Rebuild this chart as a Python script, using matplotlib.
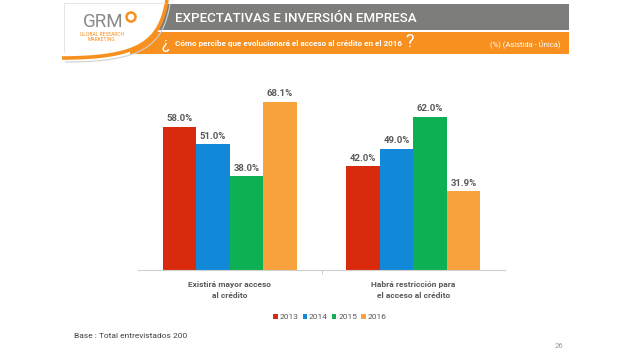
import matplotlib.pyplot as plt
import matplotlib.patches as mpatches
from matplotlib.path import Path
import numpy as np

plt.rcParams['font.family'] = ['Roboto', 'DejaVu Sans']

categories = ['Existirá mayor acceso\nal crédito', 'Habrá restricción para\nel acceso al crédito']
years = ['2013', '2014', '2015', '2016']
v2013 = [58.0, 42.0]
v2014 = [51.0, 49.0]
v2015 = [38.0, 62.0]
v2016 = [68.1, 31.9]
colors = ['#DA2A0E', '#1188D8', '#0DB052', '#F8A23E']

W, H = 640, 357
fig = plt.figure(figsize=(6.4, 3.57), dpi=100)
fig.patch.set_facecolor('white')

# background layer in pixel coords for the slide decoration
bg = fig.add_axes([0, 0, 1, 1])
bg.set_xlim(0, W)
bg.set_ylim(H, 0)
bg.axis('off')

bg.add_patch(mpatches.Rectangle((140, 4), 429, 26, color='#7D7D7B', lw=0))
bg.add_patch(mpatches.Rectangle((130, 32), 439, 22, color='#F7901E', lw=0))

# logo: white swoosh over the left end of the bands
C = Path.CURVE4
swoosh = [(167, 0), (160, 42), (140, 58), (62, 58)]
fill = Path([(62, 0)] + swoosh + [(62, 0)], [Path.MOVETO, Path.LINETO, C, C, C, Path.CLOSEPOLY])
bg.add_patch(mpatches.PathPatch(fill, facecolor='white', edgecolor='none'))
edge = Path(swoosh, [Path.MOVETO, C, C, C])
bg.add_patch(mpatches.PathPatch(edge, facecolor='none', edgecolor='#F7901E', lw=2.6))
outer = Path([(p[0] + 3, p[1] + 4) for p in swoosh], [Path.MOVETO, C, C, C])
bg.add_patch(mpatches.PathPatch(outer, facecolor='none', edgecolor='#D0D0D0', lw=0.8))
bg.plot([64, 64], [3, 52], color='#E2E2E2', lw=0.6)
bg.plot([64, 165], [3, 3], color='#E2E2E2', lw=0.6)
bg.text(103, 22, 'GRM', color='#8A8A8A', fontsize=13.5, va='center', ha='center')
bg.add_patch(mpatches.Circle((131, 17), 4.5, facecolor='white', edgecolor='#F7901E', lw=1.8))
bg.text(102, 37, 'GLOBAL RESEARCH\nMARKETING', color='#F7901E', fontsize=3.6,
        va='center', ha='center', linespacing=1.0)

bg.text(175, 18, 'EXPECTATIVAS E INVERSIÓN EMPRESA', color='white', fontsize=9.6,
        fontweight='medium', va='center', ha='left')
bg.text(162, 45, '¿', color='white', fontsize=12, va='center', ha='left')
bg.text(175, 43.5, 'Cómo percibe que evolucionará el acceso al crédito en el 2016', color='white',
        fontsize=5.9, fontweight='bold', va='center', ha='left')
bg.text(405, 42, '?', color='white', fontsize=13, va='center', ha='left')
bg.text(560, 43.5, '(%) (Asistida - Única)', color='white', fontsize=5.5,
        va='center', ha='right')

# chart
ax = fig.add_axes([138 / W, 1 - 270 / H, 367 / W, 197.4 / H])
x = np.arange(len(categories))
bw = 0.182
series = [v2013, v2014, v2015, v2016]
for i, (vals, c, lab) in enumerate(zip(series, colors, years)):
    pos = x + (i - 1.5) * bw
    bars = ax.bar(pos, vals, bw, color=c, label=lab, zorder=2)
    for b, v in zip(bars, vals):
        ax.text(b.get_x() + b.get_width() / 2, v + 3.3, f'{v:.1f}%', ha='center', va='center',
                fontsize=6.8, fontweight='bold', color='#595959')

ax.set_xlim(-0.5, 1.5)
ax.set_ylim(0, 80)
ax.set_yticks([])
for s in ['top', 'right', 'left']:
    ax.spines[s].set_visible(False)
ax.spines['bottom'].set_color('#D0D0D0')
ax.spines['bottom'].set_linewidth(0.8)
ax.set_xticks([0.5], minor=True)
ax.tick_params(axis='x', which='minor', length=3, color='#D0D0D0', width=0.8)
ax.set_xticks(x)
ax.set_xticklabels(categories, fontsize=6.0, fontweight='bold', color='#595959', linespacing=1.6)
ax.tick_params(axis='x', which='major', length=0, pad=8)

leg = fig.legend(loc='center', bbox_to_anchor=(330 / W, 1 - 317 / H), ncol=4, frameon=False,
                 fontsize=6.0, handlelength=0.5, handleheight=0.5, handletextpad=0.25,
                 columnspacing=0.5)
for t in leg.get_texts():
    t.set_color('#595959')

bg.text(74, 336, 'Base : Total entrevistados 200', fontsize=6, color='#404040', va='center', ha='left')
bg.text(563, 346, '26', fontsize=5.5, color='#999999', va='center', ha='right')

fig.savefig('out.png', dpi=100)
